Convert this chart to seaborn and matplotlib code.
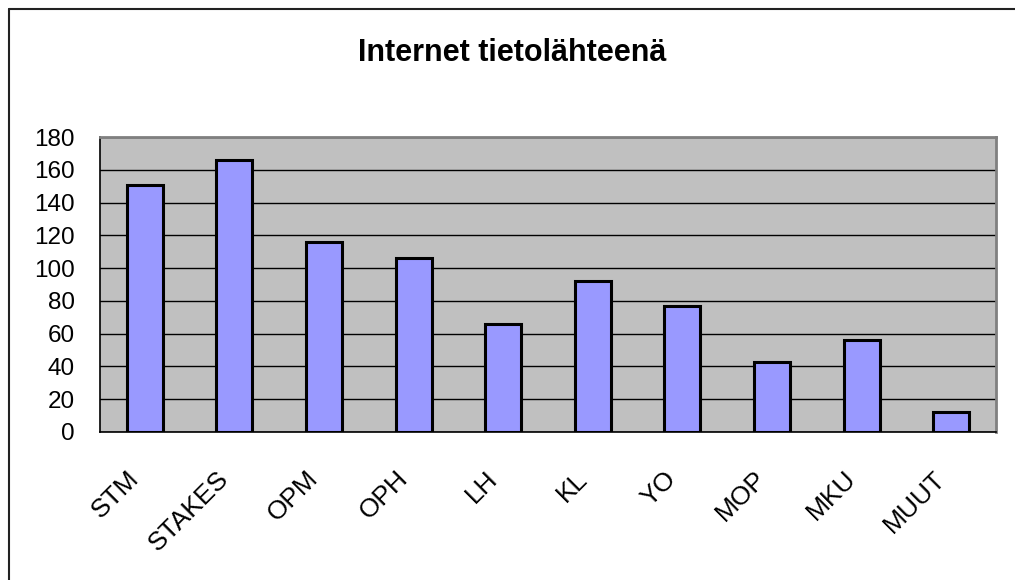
import numpy as np
import pandas as pd
import seaborn as sns
import matplotlib.pyplot as plt
import matplotlib.transforms as mtransforms
from matplotlib.lines import Line2D

# Data
categories = ["STM", "STAKES", "OPM", "OPH", "LH", "KL", "YO", "MOP", "MKU", "MUUT"]
values = [151, 166, 116, 106, 66, 92, 77, 43, 56, 12]
y_ticks = list(range(0, 181, 20))

df = pd.DataFrame({"lahde": categories, "maara": values})

sns.set_style("white")
plt.rcParams["font.family"] = ["Liberation Sans", "DejaVu Sans"]
plt.rcParams["text.color"] = "black"
plt.rcParams["xtick.color"] = "black"
plt.rcParams["ytick.color"] = "black"

fig = plt.figure(figsize=(10.15, 5.8), dpi=100)
ax = fig.add_axes([100 / 1015, 1 - 432 / 580, 896 / 1015, 295 / 580])
ax.set_facecolor("#C0C0C0")

sns.barplot(data=df, x="lahde", y="maara", color="#9999FF", width=0.4,
            edgecolor="black", linewidth=2.2, saturation=1, ax=ax, zorder=3)
for p in ax.patches:
    p.set_zorder(3)

ax.set_xlim(-0.5, len(categories) - 0.5)
ax.set_ylim(0, 180)
ax.set_yticks(y_ticks)
ax.yaxis.grid(True, color="black", linewidth=1)
ax.set_axisbelow(True)
ax.set_xlabel("")
ax.set_ylabel("")

# ticks between categories
ax.set_xticks(np.arange(-0.5, len(categories), 1.0), minor=True)
ax.tick_params(axis="x", which="minor", length=8, width=1, color="black", direction="out")
ax.tick_params(axis="x", which="major", length=0, pad=25, labelsize=19, labelcolor="black")
ax.tick_params(axis="y", length=8, width=1, color="black", direction="out", pad=10,
               labelsize=17.5, labelcolor="black")
ax.set_xticklabels(categories, rotation=45, ha="right", va="top", rotation_mode="anchor")
shift = mtransforms.ScaledTranslation(-18 / 100, 0, fig.dpi_scale_trans)
for lbl in ax.get_xticklabels():
    lbl.set_transform(lbl.get_transform() + shift)

for side in ["left", "bottom"]:
    ax.spines[side].set_color("black")
    ax.spines[side].set_linewidth(1.2)
for side in ["top", "right"]:
    ax.spines[side].set_color("#808080")
    ax.spines[side].set_linewidth(2)

fig.text(512 / 1015, 1 - 53 / 580, "Internet tietolähteenä", ha="center", va="center",
         fontsize=22, fontweight="bold", color="black")

# outer chart border (only left and top edges visible)
fig.add_artist(Line2D([9 / 1015, 9 / 1015], [0, 1 - 9 / 580], color="#222222", linewidth=1.5))
fig.add_artist(Line2D([9 / 1015, 1], [1 - 9 / 580, 1 - 9 / 580], color="#222222", linewidth=1.5))

plt.savefig("out.png", dpi=100)
